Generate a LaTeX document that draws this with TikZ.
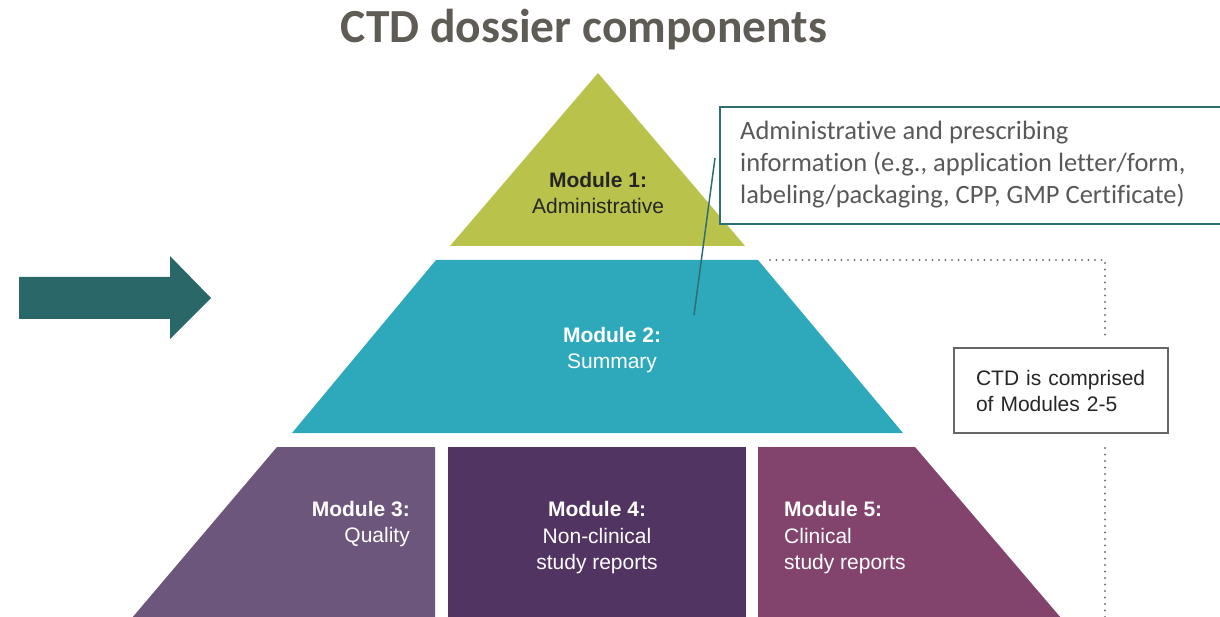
\documentclass[tikz,border=0pt]{standalone}
\usepackage{fontspec}
\setmainfont{Liberation Sans}
\newfontfamily\calibri[Ligatures=NoCommon]{Carlito}
\usepackage{tikz}

\definecolor{titlegray}{HTML}{5F5B55}
\definecolor{olive}{HTML}{B9C24B}
\definecolor{sumteal}{HTML}{2EA9BB}
\definecolor{qualpurple}{HTML}{6D567B}
\definecolor{nonclin}{HTML}{523462}
\definecolor{clinplum}{HTML}{82446D}
\definecolor{arrowteal}{HTML}{2A6769}
\definecolor{calloutteal}{HTML}{2F6E72}
\definecolor{notegray}{HTML}{595959}
\definecolor{dotgray}{HTML}{777777}

\tikzset{
  modtext/.style={font=\fontsize{21}{26.5}\selectfont, inner sep=0pt, text=white},
  bracket/.style={draw=dotgray, line width=2.4pt, line cap=round, dash pattern=on 0pt off 6.5pt},
}

\begin{document}
\begin{tikzpicture}[x=1pt,y=-1pt]
    \useasboundingbox (0,0) rectangle (1220,617);
    \node[anchor=base, inner sep=0pt, text=titlegray, font=\calibri\bfseries\fontsize{47.5}{52}\selectfont] (title) at (584,43) {CTD dossier components};

    % pyramid
    \fill[olive] (598,73) -- (745,246) -- (450,246) -- cycle;
    \fill[sumteal] (436,260) -- (758,260) -- (903,433) -- (292,433) -- cycle;
    \fill[qualpurple] (277,447) -- (435,447) -- (435,625) -- (126,625) -- cycle;
    \fill[nonclin] (448,447) rectangle (746,625);
    \fill[clinplum] (758,447) -- (915,447) -- (1067,625) -- (758,625) -- cycle;

    \node[modtext, text=black!85, align=center] (m1) at (598,193) {\textbf{Module 1:}\\Administrative};
    \node[modtext, align=center] (m2) at (612,350) {\textbf{Module 2:}\\Summary};
    \node[modtext, align=right, anchor=east] (m3) at (410,524) {\textbf{Module 3:}\\Quality};
    \node[modtext, align=center] (m4) at (597,538) {\textbf{Module 4:}\\Non-clinical\\study reports};
    \node[modtext, align=left, anchor=west] (m5) at (784,538) {\textbf{Module 5:}\\Clinical\\study reports};

    % big arrow on the left
    \fill[arrowteal] (19,277) -- (170,277) -- (170,256) -- (211,298) -- (170,339) -- (170,319) -- (19,319) -- cycle;

    % callout for module 1
    \filldraw[fill=white, draw=calloutteal, line width=2pt] (720,107) rectangle (1232,224);
    \node[anchor=west, align=left, inner sep=0pt, text=notegray, font=\calibri\fontsize{26.5}{32}\selectfont] (info) at (740,165)
        {Administrative and prescribing\\information (e.g., application letter/form,\\labeling/packaging, CPP, GMP Certificate)};
    \coordinate (lead) at (715,158);
    \coordinate (tip) at (694,315);
    \draw[calloutteal, line width=1.5pt] (lead) -- (tip);

    % modules 2-5 bracket
    \node[draw=black!60, line width=1.5pt, fill=white, minimum width=214pt, minimum height=85pt, inner xsep=22pt,
          text width=170pt, align=left, text=black!85, font=\fontsize{21}{26}\selectfont] (ctd) at (1061,390.5)
        {CTD is comprised\\of Modules 2-5};
    \draw[bracket] (770,260) -| (1105,336);
    \draw[bracket] (1105,448) -- (1105,625);
\end{tikzpicture}
\end{document}
